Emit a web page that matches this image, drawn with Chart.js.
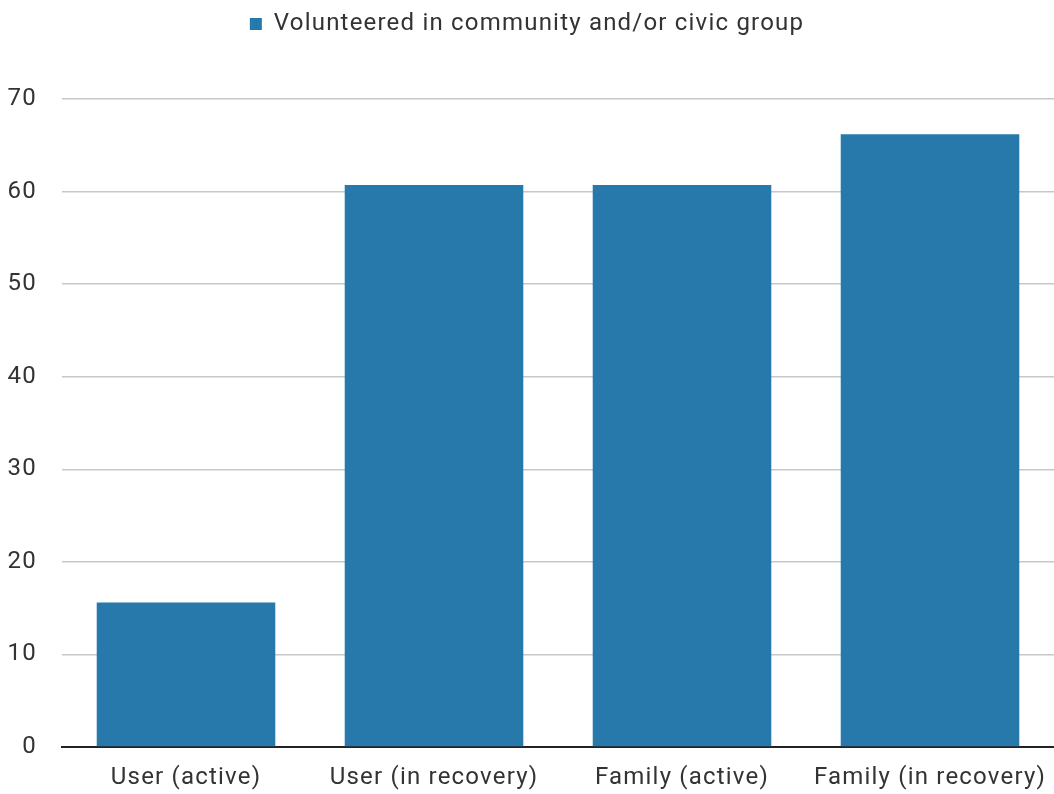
<!DOCTYPE html>
<html lang="en">
<head>
    <meta charset="UTF-8">
    <title>Volunteered in community and/or civic group</title>
    <script src="https://cdn.jsdelivr.net/npm/chart.js@4/dist/chart.umd.min.js"></script>
    <style>
        html, body { margin: 0; padding: 0; background: #fff; }
        #wrap { width: 1054px; height: 794px; }
    </style>
</head>
<body>
<div id="wrap">
    <canvas id="volunteer"></canvas>
</div>
<script>
    var groups = ["User (active)", "User (in recovery)", "Family (active)", "Family (in recovery)"];
    var volunteered = [15.6, 60.7, 60.7, 66.2];
    var seriesName = "Volunteered in community and/or civic group";

    // the reference text is a little spaced out
    var spacing = {
        id: 'spacing',
        beforeUpdate: function (chart) { chart.ctx.letterSpacing = '1.2px'; },
        beforeDraw: function (chart) { chart.ctx.letterSpacing = '1.2px'; }
    };

    // room between the legend and the plot
    var legendGap = {
        id: 'legendGap',
        beforeInit: function (chart) {
            var fit = chart.legend.fit;
            chart.legend.fit = function () {
                fit.call(chart.legend);
                this.height = 97;
            };
        }
    };

    var ctx = document.getElementById('volunteer').getContext('2d');
    var chart = new Chart(ctx, {
        type: 'bar',
        data: {
            labels: groups,
            datasets: [{
                label: seriesName,
                data: volunteered,
                backgroundColor: '#2779ab',
                borderWidth: 0,
                barPercentage: 0.72,
                categoryPercentage: 1
            }]
        },
        options: {
            responsive: true,
            maintainAspectRatio: false,
            animation: false,
            layout: { padding: { left: 0, right: 0, top: 2, bottom: 4 } },
            plugins: {
                legend: {
                    labels: {
                        boxWidth: 12,
                        boxHeight: 12,
                        color: '#333',
                        font: { family: 'Roboto', size: 24 },
                        padding: 10
                    }
                },
                tooltip: { enabled: false }
            },
            scales: {
                x: {
                    z: 1,
                    afterFit: function (scale) {
                        scale.height = 43;
                        scale.paddingLeft = 0;
                        scale.paddingRight = 0;
                    },
                    grid: { display: false, drawTicks: false },
                    border: { color: '#222', width: 2 },
                    ticks: { color: '#333', font: { family: 'Roboto', size: 24 }, padding: 17 }
                },
                y: {
                    z: 1,
                    min: 0,
                    max: 70,
                    afterFit: function (scale) { scale.width = 62; },
                    ticks: { stepSize: 10, color: '#333', font: { family: 'Roboto', size: 24 }, padding: 25 },
                    grid: { color: 'rgba(0,0,0,0.22)', lineWidth: 1.5, drawTicks: false },
                    border: { display: false }
                }
            }
        },
        plugins: [spacing, legendGap]
    });
</script>
</body>
</html>
